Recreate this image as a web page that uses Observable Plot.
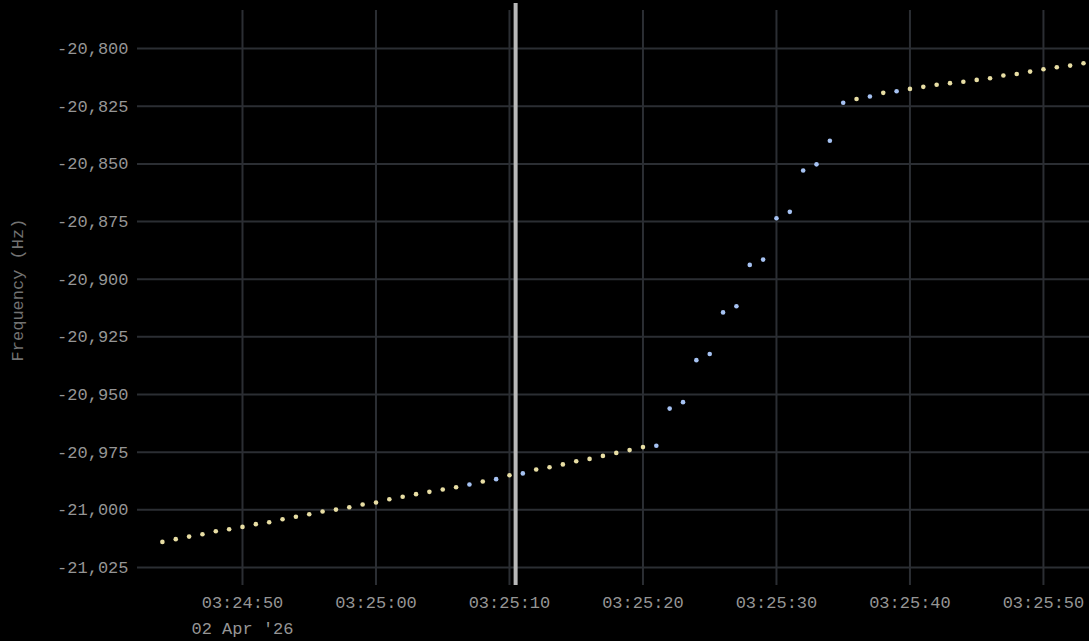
<!DOCTYPE html>
<html>
<head>
<meta charset="utf-8">
<script src="https://cdn.jsdelivr.net/npm/d3@7"></script>
<script src="https://cdn.jsdelivr.net/npm/@observablehq/plot@0.6"></script>
<style>
  html, body { margin: 0; padding: 0; background: #000; }
  #chart { width: 1089px; height: 641px; overflow: hidden; }
</style>
</head>
<body>
<div id="chart"></div>
<script>
// seconds after 2026-04-02 03:24:00 UTC
const seconds = [44,45,46,47,48,49,50,51,52,53,54,55,56,57,58,59,60,61,62,63,64,65,66,67,68,69,70,71,72,73,74,75,76,77,78,79,80,81,82,83,84,85,86,87,88,89,90,91,92,93,94,95,96,97,98,99,100,101,102,103,104,105,106,107,108,109,110,111,112,113];
const freq = [-21013.9,-21012.7,-21011.6,-21010.6,-21009.3,-21008.4,-21007.4,-21006.2,-21005.4,-21004.1,
  -21003.0,-21001.9,-21000.7,-20999.9,-20998.9,-20997.7,-20996.8,-20995.4,-20994.3,-20993.2,
  -20992.2,-20991.2,-20990.2,-20989.0,-20987.7,-20986.7,-20985.0,-20984.2,-20982.5,-20981.5,
  -20980.3,-20978.9,-20977.9,-20976.6,-20975.3,-20974.1,-20972.8,-20972.2,-20956.1,-20953.3,
  -20935.1,-20932.4,-20914.4,-20911.7,-20893.8,-20891.5,-20873.6,-20870.8,-20852.9,-20850.2,
  -20840.0,-20823.5,-20821.9,-20820.8,-20819.2,-20818.5,-20817.5,-20816.6,-20815.7,-20815.0,
  -20814.4,-20813.6,-20812.9,-20811.7,-20811.0,-20810.0,-20809.0,-20808.1,-20807.4,-20806.4];
const kind = ["Y","Y","Y","Y","Y","Y","Y","Y","Y","Y","Y","Y","Y","Y","Y","Y","Y","Y","Y","Y","Y","Y","Y",
  "B","Y","B","Y","B",
  "Y","Y","Y","Y","Y","Y","Y","Y","Y",
  "B","B","B","B","B","B","B","B","B","B","B","B","B","B","B",
  "Y","B","Y","B",
  "Y","Y","Y","Y","Y","Y","Y","Y","Y","Y","Y","Y","Y","Y"];
const kinds = ["Y","B"];
const kindColors = ["#e8dea4","#a6c2f2"];
const markerTimes = ["2026-04-02T03:25:10.46Z"];
const xTickLabels = ["03:24:50","03:25:00","03:25:10","03:25:20","03:25:30","03:25:40","03:25:50"];
const dateLabel = "02 Apr '26";
const yTicks = [-20800,-20825,-20850,-20875,-20900,-20925,-20950,-20975,-21000,-21025];
const xDomain = ["2026-04-02T03:24:42.135Z","2026-04-02T03:25:53.45Z"];
const yDomain = [-21032.8,-20783.5];

const base = new Date("2026-04-02T03:24:00Z");
const data = seconds.map((s, i) => ({t: new Date(+base + s * 1000), f: freq[i], k: kind[i]}));
const xTicks = xTickLabels.map(l => new Date("2026-04-02T" + l + "Z"));
const markers = markerTimes.map(d => new Date(d));
const fmtY = d => d3.format(",")(d).replace("\u2212", "-");

const font = "'Liberation Mono', 'Courier New', monospace";
const plot = Plot.plot({
  width: 1089,
  height: 641,
  marginLeft: 137,
  marginRight: 0,
  marginTop: 10,
  marginBottom: 56,
  style: {background: "#000", fontFamily: font, fontSize: "17px", color: "#959595"},
  x: {type: "utc", domain: xDomain.map(d => new Date(d))},
  y: {domain: yDomain},
  color: {domain: kinds, range: kindColors},
  marks: [
    Plot.gridY({ticks: yTicks, stroke: "#2b2e33", strokeOpacity: 1, strokeWidth: 2}),
    Plot.gridX({ticks: xTicks, stroke: "#2b2e33", strokeOpacity: 1, strokeWidth: 2}),
    Plot.ruleX(markers, {x: d => d, stroke: "#b9b9b9", strokeWidth: 4, insetTop: -7}),
    Plot.dot(data, {x: "t", y: "f", fill: "k", r: 2.3}),
    Plot.axisY({ticks: yTicks, tickFormat: fmtY, tickSize: 0, tickPadding: 9, label: null, fill: "#959595"}),
    Plot.axisX({ticks: xTicks, tickFormat: d3.utcFormat("%H:%M:%S"), tickSize: 0, tickPadding: 10, label: null, fill: "#959595"}),
    Plot.axisX({ticks: [xTicks[0]], tickFormat: () => dateLabel, tickSize: 0, tickPadding: 36, label: null, fill: "#959595"}),
    Plot.text(["Frequency (Hz)"], {frameAnchor: "left", textAnchor: "middle", rotate: -90, dx: -120, dy: -8, fill: "#727272", fontSize: 17})
  ]
});
document.getElementById("chart").appendChild(plot);
</script>
</body>
</html>
